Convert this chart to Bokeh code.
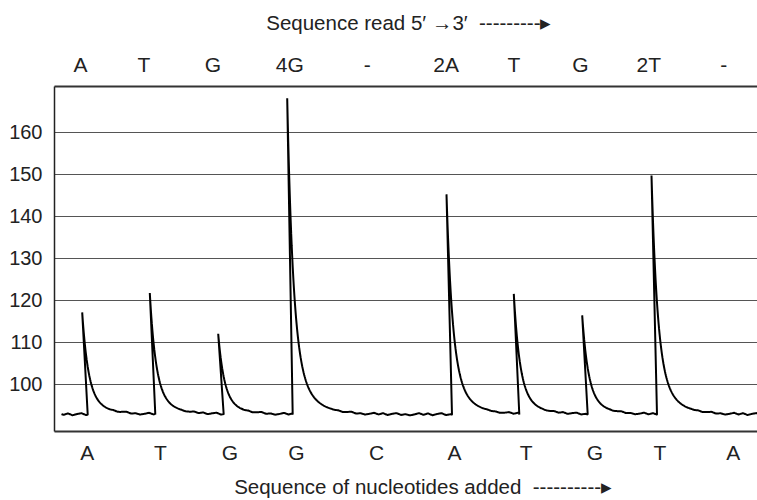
import numpy as np
from bokeh.plotting import figure
from bokeh.models import LinearAxis, FixedTicker, Range1d
from bokeh.embed import file_html
from bokeh.resources import INLINE

# ---- data ----
dispensed = ["A", "T", "G", "G", "C", "A", "T", "G", "T", "A"]
dispensed_pos = [3.27, 10.6, 17.53, 24.2, 32.2, 40.0, 47.17, 54.03, 60.53, 67.87]
read_seq = ["A", "T", "G", "4G", "-", "2A", "T", "G", "2T", "-"]
read_pos = [2.6, 8.93, 15.83, 23.53, 31.27, 39.17, 45.93, 52.6, 59.43, 66.93]
y_ticks = [100, 110, 120, 130, 140, 150, 160]

peak_times = [2.77, 9.53, 16.37, 23.27, 39.2, 45.93, 52.77, 59.7]
peak_heights = [117.1, 121.7, 112.0, 168.1, 145.2, 121.5, 116.4, 149.7]
baseline_level = 92.8
ripple = [0.0, 0.3, -0.1, 0.25, -0.2, 0.1, 0.3, -0.15, 0.05, -0.25]

# ---- trace shape ----
rise_lag = 0.55
trace_start, trace_end = 0.7, 71.0
step = 0.05
rip_sp = 0.45
rip_t = np.arange(len(ripple) + 1) * rip_sp
rip_v = np.array(ripple + [ripple[0]])
period = len(ripple) * rip_sp


def pulse(dx):
    return 0.8 * np.exp(-dx / 0.6) + 0.2 * np.exp(-dx / 1.8)


def segment(t0, t1, prev):
    seg = np.arange(t0, t1, step)
    seg = np.append(seg, t1)
    tail = np.zeros_like(seg)
    if prev is not None:
        tail = prev[1] * pulse(seg - prev[0])
    w = np.clip(1 - tail / 1.5, 0, 1)
    rip = np.interp(seg % period, rip_t, rip_v) * w
    return seg, baseline_level + tail + rip


xs, ys = [], []
prev = None
cur = trace_start
for tp, h in zip(peak_times, peak_heights):
    tr = tp + rise_lag
    sx, sy = segment(cur, tr, prev)
    sy[-1] = baseline_level
    xs += list(sx); ys += list(sy)
    xs.append(tp); ys.append(h)
    prev = (tp, h - baseline_level)
    cur = tp + step
sx, sy = segment(cur, trace_end, prev)
xs += list(sx); ys += list(sy)

FONT = "Liberation Sans"
TXT = "#222222"
NB = "\u00a0"

p = figure(width=757, height=500, output_backend="svg", toolbar_location=None,
           x_range=Range1d(0, 70.3), y_range=Range1d(88.74, 170.88),
           min_border_left=54, min_border_top=86, min_border_right=0,
           min_border_bottom=69)
p.outline_line_color = None
p.background_fill_color = "white"
p.border_fill_color = "white"

p.line(xs, ys, line_color="black", line_width=2)

# grid
p.xgrid.visible = False
p.ygrid.ticker = FixedTicker(ticks=y_ticks)
p.ygrid.grid_line_color = "#555555"
p.ygrid.grid_line_width = 1


def style_axis(ax, size):
    ax.major_tick_line_color = None
    ax.minor_tick_line_color = None
    ax.major_tick_out = 0
    ax.major_tick_in = 0
    ax.minor_tick_out = 0
    ax.minor_tick_in = 0
    ax.major_label_text_font = FONT
    ax.major_label_text_font_size = size
    ax.major_label_text_color = TXT
    ax.axis_label_text_font = FONT
    ax.axis_label_text_font_size = "20.5px"
    ax.axis_label_text_font_style = "normal"
    ax.axis_label_text_color = TXT


# left axis
ya = p.yaxis[0]
ya.ticker = FixedTicker(ticks=y_ticks)
style_axis(ya, "20px")
ya.axis_line_color = "#222222"
ya.axis_line_width = 1.5
ya.major_label_standoff = 12

# bottom axis
xa = p.xaxis[0]
xa.ticker = FixedTicker(ticks=dispensed_pos)
xa.major_label_overrides = {pos: lab for pos, lab in zip(dispensed_pos, dispensed)}
style_axis(xa, "21px")
xa.axis_line_color = "#333333"
xa.axis_line_width = 2
xa.major_label_standoff = 9
xa.axis_label = NB * 6 + "Sequence of nucleotides added" + NB * 2 + "-" * 10 + "\u25b8"
xa.axis_label_standoff = 8

# top axis
ta = LinearAxis(ticker=FixedTicker(ticks=read_pos))
ta.major_label_overrides = {pos: lab for pos, lab in zip(read_pos, read_seq)}
style_axis(ta, "21px")
ta.axis_line_color = "#333333"
ta.axis_line_width = 2
ta.major_label_standoff = 11
ta.axis_label = NB + "Sequence read 5\u2032 \u21923\u2032" + NB * 2 + "-" * 9 + "\u25b8"
ta.axis_label_standoff = 16
p.add_layout(ta, "above")

open("out.html", "w").write(file_html(p, INLINE))
